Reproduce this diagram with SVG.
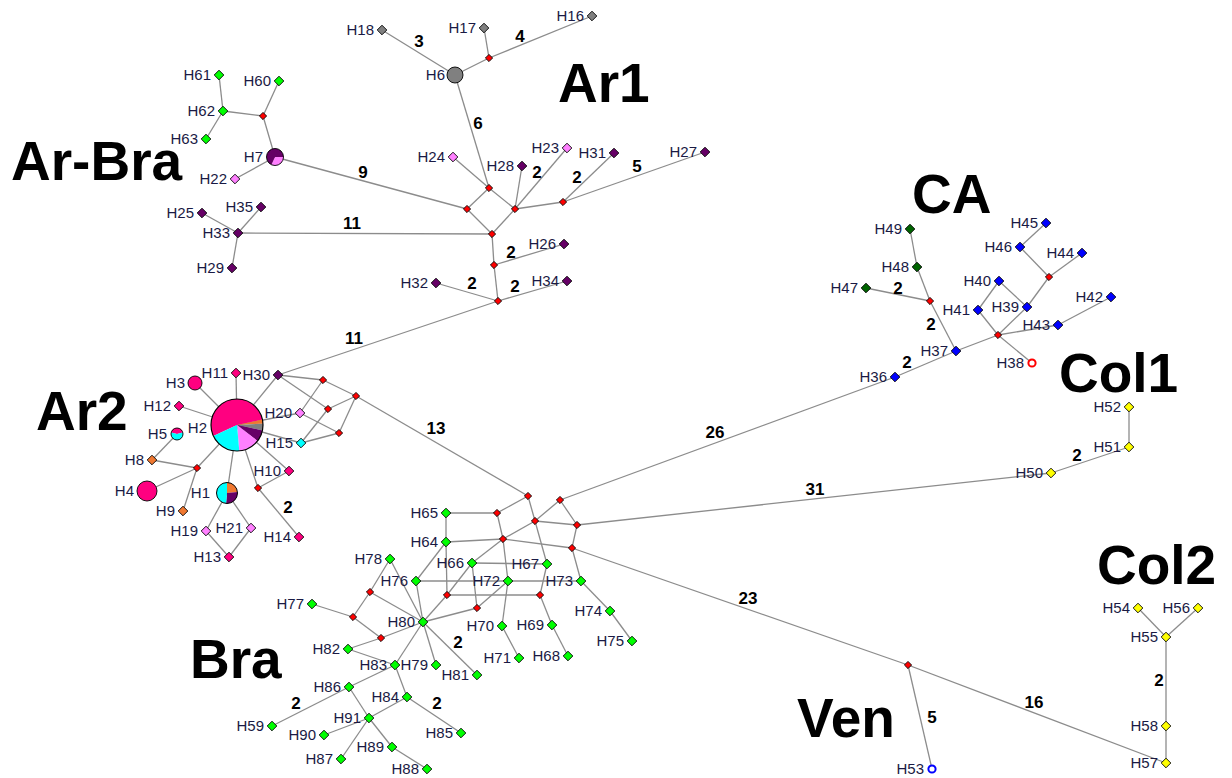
<svg xmlns="http://www.w3.org/2000/svg" xmlns:xlink="http://www.w3.org/1999/xlink" width="1232" height="778" viewBox="0 0 1232 778">
<style>
.c line{stroke:#8c8c8c;stroke-width:1.3}
.n{stroke:#000;stroke-width:0.9}
.gr{fill:#00ff00}.gy{fill:#808080}.pu{fill:#660066}.vi{fill:#ff80ff}.mg{fill:#ff0080}.cy{fill:#00ffff}.or{fill:#f07830}.dg{fill:#006400}.bl{fill:#0000ff}.ye{fill:#ffff00}.rd{fill:#ff0000}
.t{font-family:"Liberation Sans",Arial,sans-serif;font-size:15px;fill:#1a1a44;text-anchor:end}
.num{font-family:"Liberation Sans",Arial,sans-serif;font-size:17px;font-weight:bold;fill:#000;text-anchor:middle}
.big{font-family:"Liberation Sans",Arial,sans-serif;font-size:55px;font-weight:bold;fill:#000}
</style>
<defs>
<path id="dm" d="M0,-4.8L4.8,0L0,4.8L-4.8,0Z"/>
<path id="dr" d="M0,-3.6L3.6,0L0,3.6L-3.6,0Z"/>
</defs>
<rect width="1232" height="778" fill="#fff"/>
<g id="connectors" class="c">
<line x1="382" y1="30" x2="455" y2="75"/>
<line x1="455" y1="75" x2="489" y2="58"/>
<line x1="489" y1="58" x2="484" y2="28"/>
<line x1="489" y1="58" x2="592" y2="16"/>
<line x1="455" y1="75" x2="489" y2="188"/>
<line x1="489" y1="188" x2="453" y2="157"/>
<line x1="489" y1="188" x2="467" y2="209"/>
<line x1="489" y1="188" x2="515" y2="209"/>
<line x1="467" y1="209" x2="492" y2="234"/>
<line x1="515" y1="209" x2="492" y2="234"/>
<line x1="467" y1="209" x2="275" y2="157"/>
<line x1="515" y1="209" x2="522" y2="166"/>
<line x1="515" y1="209" x2="567" y2="148"/>
<line x1="515" y1="209" x2="563" y2="202"/>
<line x1="563" y1="202" x2="614" y2="153"/>
<line x1="563" y1="202" x2="705" y2="152"/>
<line x1="492" y1="234" x2="238" y2="233"/>
<line x1="492" y1="234" x2="494" y2="265"/>
<line x1="494" y1="265" x2="564" y2="244"/>
<line x1="494" y1="265" x2="498" y2="301"/>
<line x1="498" y1="301" x2="436" y2="283"/>
<line x1="498" y1="301" x2="567" y2="281"/>
<line x1="498" y1="301" x2="278" y2="375"/>
<line x1="219" y1="75" x2="223" y2="111"/>
<line x1="206" y1="139" x2="223" y2="111"/>
<line x1="223" y1="111" x2="263" y2="116"/>
<line x1="279" y1="81" x2="263" y2="116"/>
<line x1="263" y1="116" x2="275" y2="157"/>
<line x1="275" y1="157" x2="235" y2="179"/>
<line x1="202" y1="213" x2="238" y2="233"/>
<line x1="261" y1="207" x2="238" y2="233"/>
<line x1="232" y1="268" x2="238" y2="233"/>
<line x1="237" y1="425" x2="236" y2="373"/>
<line x1="237" y1="425" x2="195" y2="383"/>
<line x1="237" y1="425" x2="179" y2="406"/>
<line x1="237" y1="425" x2="278" y2="375"/>
<line x1="237" y1="425" x2="300" y2="413"/>
<line x1="237" y1="425" x2="301" y2="443"/>
<line x1="237" y1="425" x2="289" y2="471"/>
<line x1="237" y1="425" x2="258" y2="488"/>
<line x1="258" y1="488" x2="289" y2="471"/>
<line x1="258" y1="488" x2="299" y2="537"/>
<line x1="237" y1="425" x2="227" y2="493"/>
<line x1="227" y1="493" x2="206" y2="531"/>
<line x1="227" y1="493" x2="251" y2="528"/>
<line x1="206" y1="531" x2="229" y2="557"/>
<line x1="251" y1="528" x2="229" y2="557"/>
<line x1="237" y1="425" x2="197" y2="468"/>
<line x1="197" y1="468" x2="152" y2="460"/>
<line x1="152" y1="460" x2="177" y2="434"/>
<line x1="197" y1="468" x2="147" y2="491"/>
<line x1="197" y1="468" x2="183" y2="511"/>
<line x1="278" y1="375" x2="323" y2="380"/>
<line x1="278" y1="375" x2="328" y2="409"/>
<line x1="300" y1="413" x2="323" y2="380"/>
<line x1="300" y1="413" x2="339" y2="433"/>
<line x1="301" y1="443" x2="328" y2="409"/>
<line x1="301" y1="443" x2="339" y2="433"/>
<line x1="323" y1="380" x2="356" y2="396"/>
<line x1="328" y1="409" x2="356" y2="396"/>
<line x1="339" y1="433" x2="356" y2="396"/>
<line x1="356" y1="396" x2="528" y2="496"/>
<line x1="528" y1="496" x2="497" y2="513"/>
<line x1="528" y1="496" x2="535" y2="521"/>
<line x1="560" y1="500" x2="535" y2="521"/>
<line x1="560" y1="500" x2="577" y2="525"/>
<line x1="560" y1="500" x2="895" y2="377"/>
<line x1="535" y1="521" x2="577" y2="525"/>
<line x1="535" y1="521" x2="503" y2="539"/>
<line x1="535" y1="521" x2="547" y2="564"/>
<line x1="577" y1="525" x2="572" y2="548"/>
<line x1="577" y1="525" x2="1051" y2="473"/>
<line x1="503" y1="539" x2="572" y2="548"/>
<line x1="572" y1="548" x2="908" y2="665"/>
<line x1="572" y1="548" x2="581" y2="581"/>
<line x1="497" y1="513" x2="446" y2="513"/>
<line x1="497" y1="513" x2="503" y2="539"/>
<line x1="446" y1="513" x2="446" y2="542"/>
<line x1="446" y1="542" x2="503" y2="539"/>
<line x1="446" y1="542" x2="416" y2="581"/>
<line x1="446" y1="542" x2="447" y2="595"/>
<line x1="503" y1="539" x2="472" y2="563"/>
<line x1="503" y1="539" x2="508" y2="581"/>
<line x1="472" y1="563" x2="547" y2="564"/>
<line x1="472" y1="563" x2="477" y2="608"/>
<line x1="472" y1="563" x2="447" y2="595"/>
<line x1="447" y1="595" x2="423" y2="622"/>
<line x1="447" y1="595" x2="540" y2="595"/>
<line x1="547" y1="564" x2="540" y2="595"/>
<line x1="540" y1="595" x2="552" y2="625"/>
<line x1="552" y1="625" x2="568" y2="656"/>
<line x1="508" y1="581" x2="502" y2="626"/>
<line x1="502" y1="626" x2="519" y2="658"/>
<line x1="416" y1="581" x2="508" y2="581"/>
<line x1="508" y1="581" x2="581" y2="581"/>
<line x1="477" y1="608" x2="508" y2="581"/>
<line x1="477" y1="608" x2="423" y2="622"/>
<line x1="581" y1="581" x2="610" y2="611"/>
<line x1="610" y1="611" x2="632" y2="641"/>
<line x1="416" y1="581" x2="423" y2="622"/>
<line x1="390" y1="559" x2="423" y2="622"/>
<line x1="390" y1="559" x2="370" y2="592"/>
<line x1="370" y1="592" x2="423" y2="622"/>
<line x1="370" y1="592" x2="353" y2="617"/>
<line x1="353" y1="617" x2="312" y2="604"/>
<line x1="353" y1="617" x2="381" y2="638"/>
<line x1="381" y1="638" x2="423" y2="622"/>
<line x1="381" y1="638" x2="348" y2="649"/>
<line x1="348" y1="649" x2="395" y2="665"/>
<line x1="395" y1="665" x2="423" y2="622"/>
<line x1="436" y1="665" x2="423" y2="622"/>
<line x1="423" y1="622" x2="477" y2="675"/>
<line x1="395" y1="665" x2="349" y2="687"/>
<line x1="395" y1="665" x2="407" y2="697"/>
<line x1="349" y1="687" x2="272" y2="726"/>
<line x1="349" y1="687" x2="369" y2="718"/>
<line x1="407" y1="697" x2="369" y2="718"/>
<line x1="407" y1="697" x2="461" y2="733"/>
<line x1="369" y1="718" x2="324" y2="735"/>
<line x1="369" y1="718" x2="341" y2="759"/>
<line x1="369" y1="718" x2="392" y2="747"/>
<line x1="392" y1="747" x2="427" y2="769"/>
<line x1="895" y1="377" x2="956" y2="351"/>
<line x1="956" y1="351" x2="930" y2="301"/>
<line x1="930" y1="301" x2="917" y2="267"/>
<line x1="917" y1="267" x2="910" y2="229"/>
<line x1="930" y1="301" x2="866" y2="288"/>
<line x1="956" y1="351" x2="998" y2="335"/>
<line x1="998" y1="335" x2="978" y2="310"/>
<line x1="978" y1="310" x2="999" y2="281"/>
<line x1="999" y1="281" x2="1027" y2="307"/>
<line x1="998" y1="335" x2="1027" y2="307"/>
<line x1="1027" y1="307" x2="1049" y2="277"/>
<line x1="1049" y1="277" x2="1020" y2="247"/>
<line x1="1020" y1="247" x2="1046" y2="223"/>
<line x1="1049" y1="277" x2="1082" y2="253"/>
<line x1="998" y1="335" x2="1058" y2="325"/>
<line x1="1058" y1="325" x2="1111" y2="297"/>
<line x1="998" y1="335" x2="1032" y2="363"/>
<line x1="1051" y1="473" x2="1129" y2="447"/>
<line x1="1129" y1="447" x2="1129" y2="407"/>
<line x1="908" y1="665" x2="932" y2="769"/>
<line x1="908" y1="665" x2="1166" y2="763"/>
<line x1="1166" y1="763" x2="1166" y2="726"/>
<line x1="1166" y1="726" x2="1166" y2="637"/>
<line x1="1166" y1="637" x2="1138" y2="608"/>
<line x1="1166" y1="637" x2="1198" y2="608"/>
</g>
<g id="edge-labels" class="num">
<text x="419" y="47">3</text>
<text x="520" y="42">4</text>
<text x="478" y="129">6</text>
<text x="363" y="178">9</text>
<text x="352" y="229">11</text>
<text x="537" y="178">2</text>
<text x="577" y="183">2</text>
<text x="637" y="172">5</text>
<text x="511" y="258">2</text>
<text x="472" y="289">2</text>
<text x="515" y="292">2</text>
<text x="354" y="344">11</text>
<text x="436" y="434">13</text>
<text x="288" y="513">2</text>
<text x="458" y="648">2</text>
<text x="296" y="709">2</text>
<text x="437" y="709">2</text>
<text x="715" y="438">26</text>
<text x="815" y="495">31</text>
<text x="748" y="604">23</text>
<text x="1034" y="708">16</text>
<text x="932" y="723">5</text>
<text x="898" y="294">2</text>
<text x="931" y="330">2</text>
<text x="907" y="368">2</text>
<text x="1077" y="461">2</text>
<text x="1159" y="686">2</text>
</g>
<g id="medians">
<use href="#dr" x="489" y="58" class="n rd"/>
<use href="#dr" x="263" y="116" class="n rd"/>
<use href="#dr" x="489" y="188" class="n rd"/>
<use href="#dr" x="467" y="209" class="n rd"/>
<use href="#dr" x="515" y="209" class="n rd"/>
<use href="#dr" x="563" y="202" class="n rd"/>
<use href="#dr" x="492" y="234" class="n rd"/>
<use href="#dr" x="494" y="265" class="n rd"/>
<use href="#dr" x="498" y="301" class="n rd"/>
<use href="#dr" x="197" y="468" class="n rd"/>
<use href="#dr" x="258" y="488" class="n rd"/>
<use href="#dr" x="323" y="380" class="n rd"/>
<use href="#dr" x="356" y="396" class="n rd"/>
<use href="#dr" x="328" y="409" class="n rd"/>
<use href="#dr" x="339" y="433" class="n rd"/>
<use href="#dr" x="528" y="496" class="n rd"/>
<use href="#dr" x="560" y="500" class="n rd"/>
<use href="#dr" x="497" y="513" class="n rd"/>
<use href="#dr" x="535" y="521" class="n rd"/>
<use href="#dr" x="577" y="525" class="n rd"/>
<use href="#dr" x="503" y="539" class="n rd"/>
<use href="#dr" x="572" y="548" class="n rd"/>
<use href="#dr" x="447" y="595" class="n rd"/>
<use href="#dr" x="540" y="595" class="n rd"/>
<use href="#dr" x="477" y="608" class="n rd"/>
<use href="#dr" x="370" y="592" class="n rd"/>
<use href="#dr" x="353" y="617" class="n rd"/>
<use href="#dr" x="381" y="638" class="n rd"/>
<use href="#dr" x="930" y="301" class="n rd"/>
<use href="#dr" x="998" y="335" class="n rd"/>
<use href="#dr" x="1049" y="277" class="n rd"/>
<use href="#dr" x="908" y="665" class="n rd"/>
</g>
<g id="H2"><path class="mg" d="M237,425 L213.44,435.99 A26,26 0 1 1 262.43,419.59 Z"/><path class="or" d="M237,425 L262.43,419.59 A26,26 0 0 1 262.96,423.64 Z"/><path class="gy" d="M237,425 L262.96,423.64 A26,26 0 0 1 262.43,430.41 Z"/><path class="pu" d="M237,425 L262.43,430.41 A26,26 0 0 1 257.49,441.01 Z"/><path class="vi" d="M237,425 L257.49,441.01 A26,26 0 0 1 239.27,450.90 Z"/><path class="cy" d="M237,425 L239.27,450.90 A26,26 0 0 1 213.44,435.99 Z"/><circle cx="237" cy="425" r="26" fill="none" stroke="#000" stroke-width="1.2"/><text class="t" x="207" y="433">H2</text></g>
<g id="H1"><path class="or" d="M227,493 L227,482.5 A10.5,10.5 0 0 1 237.46,492.08 Z"/><path class="pu" d="M227,493 L237.46,492.08 A10.5,10.5 0 0 1 226.08,503.46 Z"/><path class="cy" d="M227,493 L226.08,503.46 A10.5,10.5 0 0 1 227,482.5 Z"/><circle cx="227" cy="493" r="10.5" fill="none" stroke="#000" stroke-width="1"/><text class="t" x="210" y="498">H1</text></g>
<g id="H5"><path class="mg" d="M177,434 L171.20,432.45 A6,6 0 0 1 182.80,432.45 Z"/><path class="cy" d="M177,434 L182.80,432.45 A6,6 0 1 1 171.20,432.45 Z"/><circle cx="177" cy="434" r="6" fill="none" stroke="#000" stroke-width="0.9"/><text class="t" x="167" y="439">H5</text></g>
<g id="H7"><path class="vi" d="M275,157 L283.5,157 A8.5,8.5 0 0 1 271.41,164.70 Z"/><path class="pu" d="M275,157 L271.41,164.70 A8.5,8.5 0 1 1 283.5,157 Z"/><circle cx="275" cy="157" r="8.5" fill="none" stroke="#000" stroke-width="0.9"/><text class="t" x="263" y="162">H7</text></g>
<g id="H6"><circle cx="455" cy="75" r="8" class="n gy"/><text class="t" x="445" y="80">H6</text></g>
<g id="H3"><circle cx="195" cy="383" r="7" class="n mg"/><text class="t" x="185" y="388">H3</text></g>
<g id="H4"><circle cx="147" cy="491" r="10" class="n mg"/><text class="t" x="134" y="496">H4</text></g>
<g id="H61"><use href="#dm" x="219" y="75" class="n gr"/><text class="t" x="211" y="80">H61</text></g>
<g id="H60"><use href="#dm" x="279" y="81" class="n gr"/><text class="t" x="271" y="86">H60</text></g>
<g id="H62"><use href="#dm" x="223" y="111" class="n gr"/><text class="t" x="215" y="116">H62</text></g>
<g id="H63"><use href="#dm" x="206" y="139" class="n gr"/><text class="t" x="198" y="144">H63</text></g>
<g id="H22"><use href="#dm" x="235" y="179" class="n vi"/><text class="t" x="227" y="184">H22</text></g>
<g id="H25"><use href="#dm" x="202" y="213" class="n pu"/><text class="t" x="194" y="218">H25</text></g>
<g id="H35"><use href="#dm" x="261" y="207" class="n pu"/><text class="t" x="253" y="212">H35</text></g>
<g id="H33"><use href="#dm" x="238" y="233" class="n pu"/><text class="t" x="230" y="238">H33</text></g>
<g id="H29"><use href="#dm" x="232" y="268" class="n pu"/><text class="t" x="224" y="273">H29</text></g>
<g id="H18"><use href="#dm" x="382" y="30" class="n gy"/><text class="t" x="374" y="35">H18</text></g>
<g id="H17"><use href="#dm" x="484" y="28" class="n gy"/><text class="t" x="476" y="33">H17</text></g>
<g id="H16"><use href="#dm" x="592" y="16" class="n gy"/><text class="t" x="584" y="21">H16</text></g>
<g id="H24"><use href="#dm" x="453" y="157" class="n vi"/><text class="t" x="445" y="162">H24</text></g>
<g id="H28"><use href="#dm" x="522" y="166" class="n pu"/><text class="t" x="514" y="171">H28</text></g>
<g id="H23"><use href="#dm" x="567" y="148" class="n vi"/><text class="t" x="559" y="153">H23</text></g>
<g id="H31"><use href="#dm" x="614" y="153" class="n pu"/><text class="t" x="606" y="158">H31</text></g>
<g id="H27"><use href="#dm" x="705" y="152" class="n pu"/><text class="t" x="697" y="157">H27</text></g>
<g id="H26"><use href="#dm" x="564" y="244" class="n pu"/><text class="t" x="556" y="249">H26</text></g>
<g id="H34"><use href="#dm" x="567" y="281" class="n pu"/><text class="t" x="559" y="286">H34</text></g>
<g id="H32"><use href="#dm" x="436" y="283" class="n pu"/><text class="t" x="428" y="288">H32</text></g>
<g id="H30"><use href="#dm" x="278" y="375" class="n pu"/><text class="t" x="270" y="380">H30</text></g>
<g id="H11"><use href="#dm" x="236" y="373" class="n mg"/><text class="t" x="228" y="378">H11</text></g>
<g id="H12"><use href="#dm" x="179" y="406" class="n mg"/><text class="t" x="171" y="411">H12</text></g>
<g id="H20"><use href="#dm" x="300" y="413" class="n vi"/><text class="t" x="292" y="418">H20</text></g>
<g id="H15"><use href="#dm" x="301" y="443" class="n cy"/><text class="t" x="293" y="448">H15</text></g>
<g id="H8"><use href="#dm" x="152" y="460" class="n or"/><text class="t" x="144" y="465">H8</text></g>
<g id="H10"><use href="#dm" x="289" y="471" class="n mg"/><text class="t" x="281" y="476">H10</text></g>
<g id="H9"><use href="#dm" x="183" y="511" class="n or"/><text class="t" x="175" y="516">H9</text></g>
<g id="H19"><use href="#dm" x="206" y="531" class="n vi"/><text class="t" x="198" y="536">H19</text></g>
<g id="H21"><use href="#dm" x="251" y="528" class="n vi"/><text class="t" x="243" y="533">H21</text></g>
<g id="H14"><use href="#dm" x="299" y="537" class="n mg"/><text class="t" x="291" y="542">H14</text></g>
<g id="H13"><use href="#dm" x="229" y="557" class="n mg"/><text class="t" x="221" y="562">H13</text></g>
<g id="H65"><use href="#dm" x="446" y="513" class="n gr"/><text class="t" x="438" y="518">H65</text></g>
<g id="H64"><use href="#dm" x="446" y="542" class="n gr"/><text class="t" x="438" y="547">H64</text></g>
<g id="H78"><use href="#dm" x="390" y="559" class="n gr"/><text class="t" x="382" y="564">H78</text></g>
<g id="H66"><use href="#dm" x="472" y="563" class="n gr"/><text class="t" x="464" y="568">H66</text></g>
<g id="H67"><use href="#dm" x="547" y="564" class="n gr"/><text class="t" x="539" y="569">H67</text></g>
<g id="H76"><use href="#dm" x="416" y="581" class="n gr"/><text class="t" x="408" y="586">H76</text></g>
<g id="H72"><use href="#dm" x="508" y="581" class="n gr"/><text class="t" x="500" y="586">H72</text></g>
<g id="H73"><use href="#dm" x="581" y="581" class="n gr"/><text class="t" x="573" y="586">H73</text></g>
<g id="H77"><use href="#dm" x="312" y="604" class="n gr"/><text class="t" x="304" y="609">H77</text></g>
<g id="H74"><use href="#dm" x="610" y="611" class="n gr"/><text class="t" x="602" y="616">H74</text></g>
<g id="H80"><use href="#dm" x="423" y="622" class="n gr"/><text class="t" x="415" y="627">H80</text></g>
<g id="H70"><use href="#dm" x="502" y="626" class="n gr"/><text class="t" x="494" y="631">H70</text></g>
<g id="H69"><use href="#dm" x="552" y="625" class="n gr"/><text class="t" x="544" y="630">H69</text></g>
<g id="H75"><use href="#dm" x="632" y="641" class="n gr"/><text class="t" x="624" y="646">H75</text></g>
<g id="H82"><use href="#dm" x="348" y="649" class="n gr"/><text class="t" x="340" y="654">H82</text></g>
<g id="H83"><use href="#dm" x="395" y="665" class="n gr"/><text class="t" x="387" y="670">H83</text></g>
<g id="H79"><use href="#dm" x="436" y="665" class="n gr"/><text class="t" x="428" y="670">H79</text></g>
<g id="H81"><use href="#dm" x="477" y="675" class="n gr"/><text class="t" x="469" y="680">H81</text></g>
<g id="H71"><use href="#dm" x="519" y="658" class="n gr"/><text class="t" x="511" y="663">H71</text></g>
<g id="H68"><use href="#dm" x="568" y="656" class="n gr"/><text class="t" x="560" y="661">H68</text></g>
<g id="H86"><use href="#dm" x="349" y="687" class="n gr"/><text class="t" x="341" y="692">H86</text></g>
<g id="H84"><use href="#dm" x="407" y="697" class="n gr"/><text class="t" x="399" y="702">H84</text></g>
<g id="H91"><use href="#dm" x="369" y="718" class="n gr"/><text class="t" x="361" y="723">H91</text></g>
<g id="H59"><use href="#dm" x="272" y="726" class="n gr"/><text class="t" x="264" y="731">H59</text></g>
<g id="H90"><use href="#dm" x="324" y="735" class="n gr"/><text class="t" x="316" y="740">H90</text></g>
<g id="H85"><use href="#dm" x="461" y="733" class="n gr"/><text class="t" x="453" y="738">H85</text></g>
<g id="H89"><use href="#dm" x="392" y="747" class="n gr"/><text class="t" x="384" y="752">H89</text></g>
<g id="H87"><use href="#dm" x="341" y="759" class="n gr"/><text class="t" x="333" y="764">H87</text></g>
<g id="H88"><use href="#dm" x="427" y="769" class="n gr"/><text class="t" x="419" y="774">H88</text></g>
<g id="H49"><use href="#dm" x="910" y="229" class="n dg"/><text class="t" x="902" y="234">H49</text></g>
<g id="H48"><use href="#dm" x="917" y="267" class="n dg"/><text class="t" x="909" y="272">H48</text></g>
<g id="H47"><use href="#dm" x="866" y="288" class="n dg"/><text class="t" x="858" y="293">H47</text></g>
<g id="H45"><use href="#dm" x="1046" y="223" class="n bl"/><text class="t" x="1038" y="228">H45</text></g>
<g id="H46"><use href="#dm" x="1020" y="247" class="n bl"/><text class="t" x="1012" y="252">H46</text></g>
<g id="H44"><use href="#dm" x="1082" y="253" class="n bl"/><text class="t" x="1074" y="258">H44</text></g>
<g id="H40"><use href="#dm" x="999" y="281" class="n bl"/><text class="t" x="991" y="286">H40</text></g>
<g id="H41"><use href="#dm" x="978" y="310" class="n bl"/><text class="t" x="970" y="315">H41</text></g>
<g id="H39"><use href="#dm" x="1027" y="307" class="n bl"/><text class="t" x="1019" y="312">H39</text></g>
<g id="H42"><use href="#dm" x="1111" y="297" class="n bl"/><text class="t" x="1103" y="302">H42</text></g>
<g id="H43"><use href="#dm" x="1058" y="325" class="n bl"/><text class="t" x="1050" y="330">H43</text></g>
<g id="H37"><use href="#dm" x="956" y="351" class="n bl"/><text class="t" x="948" y="356">H37</text></g>
<g id="H36"><use href="#dm" x="895" y="377" class="n bl"/><text class="t" x="887" y="382">H36</text></g>
<g id="H38"><circle cx="1032" cy="363" r="3.6" fill="#fff" stroke="#ff0000" stroke-width="2"/><text class="t" x="1024" y="368">H38</text></g>
<g id="H52"><use href="#dm" x="1129" y="407" class="n ye"/><text class="t" x="1121" y="412">H52</text></g>
<g id="H51"><use href="#dm" x="1129" y="447" class="n ye"/><text class="t" x="1121" y="452">H51</text></g>
<g id="H50"><use href="#dm" x="1051" y="473" class="n ye"/><text class="t" x="1043" y="478">H50</text></g>
<g id="H54"><use href="#dm" x="1138" y="608" class="n ye"/><text class="t" x="1130" y="613">H54</text></g>
<g id="H56"><use href="#dm" x="1198" y="608" class="n ye"/><text class="t" x="1190" y="613">H56</text></g>
<g id="H55"><use href="#dm" x="1166" y="637" class="n ye"/><text class="t" x="1158" y="642">H55</text></g>
<g id="H58"><use href="#dm" x="1166" y="726" class="n ye"/><text class="t" x="1158" y="731">H58</text></g>
<g id="H57"><use href="#dm" x="1166" y="763" class="n ye"/><text class="t" x="1158" y="768">H57</text></g>
<g id="H53"><circle cx="932" cy="769" r="3.6" fill="#fff" stroke="#0000ff" stroke-width="2"/><text class="t" x="924" y="774">H53</text></g>
<g id="group-labels" class="big">
<text x="11" y="180">Ar-Bra</text>
<text x="558" y="102">Ar1</text>
<text x="912" y="213">CA</text>
<text x="1059" y="392">Col1</text>
<text x="36" y="430">Ar2</text>
<text x="1097" y="584">Col2</text>
<text x="190" y="678">Bra</text>
<text x="797" y="737">Ven</text>
</g>
</svg>
